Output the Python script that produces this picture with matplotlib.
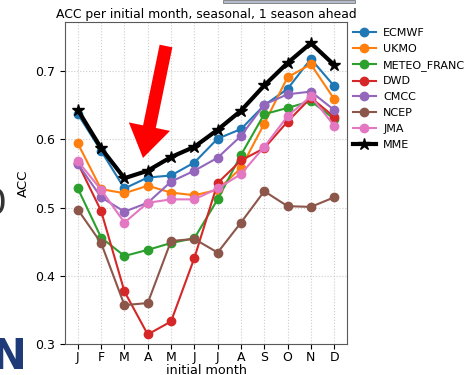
import matplotlib
matplotlib.use("Agg")
import matplotlib.pyplot as plt
from matplotlib.patches import Polygon, Rectangle
import numpy as np

months = ["J", "F", "M", "A", "M", "J", "J", "A", "S", "O", "N", "D"]
ecmwf = [0.637, 0.583, 0.528, 0.544, 0.547, 0.566, 0.601, 0.615, 0.650, 0.674, 0.718, 0.678]
ukmo = [0.594, 0.527, 0.521, 0.532, 0.522, 0.518, 0.526, 0.558, 0.623, 0.691, 0.710, 0.659]
meteo = [0.528, 0.456, 0.429, 0.438, 0.448, 0.455, 0.512, 0.577, 0.637, 0.646, 0.656, 0.630]
dwd = [0.565, 0.495, 0.377, 0.314, 0.333, 0.426, 0.536, 0.569, 0.587, 0.626, 0.661, 0.633]
cmcc = [0.564, 0.515, 0.494, 0.507, 0.538, 0.554, 0.573, 0.605, 0.651, 0.666, 0.670, 0.643]
ncep = [0.497, 0.448, 0.357, 0.360, 0.451, 0.454, 0.434, 0.478, 0.524, 0.502, 0.501, 0.515]
jma = [0.568, 0.526, 0.478, 0.507, 0.512, 0.512, 0.528, 0.549, 0.589, 0.634, 0.663, 0.620]
mme = [0.643, 0.587, 0.543, 0.554, 0.574, 0.589, 0.614, 0.642, 0.679, 0.712, 0.741, 0.709]

models = ["ECMWF", "UKMO", "METEO_FRANC", "DWD", "CMCC", "NCEP", "JMA"]
series = [ecmwf, ukmo, meteo, dwd, cmcc, ncep, jma]

W, H = 466, 375
fig = plt.figure(figsize=(W / 100, H / 100), dpi=100)
ax = fig.add_axes([65 / W, 1 - 344 / H, (347 - 65) / W, (344 - 22) / H])

x = np.arange(1, 13)
for name, vals in zip(models, series):
    ax.plot(x, vals, marker="o", ms=6, lw=1.5, label=name)
ax.plot(x, mme, marker="*", ms=9, lw=3, color="black", label="MME")

ax.set_xticks(x)
ax.set_xticklabels(months, fontsize=9)
ax.set_ylim(0.3, 0.772)
ax.set_yticks([0.3, 0.4, 0.5, 0.6, 0.7])
ax.tick_params(axis="y", labelsize=9)
ax.tick_params(axis="x", pad=1.8)
ax.grid(True, ls=":", color="0.8", lw=0.8)
ax.set_xlabel("initial month", fontsize=9.2, labelpad=-0.5)
ax.set_ylabel("ACC", fontsize=9.5)
ax.set_title("ACC per initial month, seasonal, 1 season ahead", fontsize=8.9, pad=3)
for s in ax.spines.values():
    s.set_color("0.35")

ax.legend(loc="upper left", bbox_to_anchor=(0.995, 1.005), frameon=False, fontsize=8,
          handlelength=2.0, labelspacing=0.52, handletextpad=0.7, borderaxespad=0.3)

# red arrow (pixel coords -> figure fraction)
def px(p):
    return (p[0] / W, 1 - p[1] / H)

tail = np.array([166.0, 46.0])
tip = np.array([143.0, 158.0])
d = (tip - tail) / np.linalg.norm(tip - tail)
n = np.array([-d[1], d[0]])
head_len, head_w, shaft_w = 32.0, 21.0, 6.5
base = tip - d * head_len
pts = [tail + n * shaft_w, base + n * shaft_w, base + n * head_w, tip,
       base - n * head_w, base - n * shaft_w, tail - n * shaft_w]
fig.patches.append(Polygon([px(p) for p in pts], closed=True, transform=fig.transFigure,
                           facecolor="#ff0000", edgecolor="none", zorder=10))

# screenshot remnants around the edges
fig.patches.append(Rectangle((223 / W, 1 - 3 / H), (355 - 223) / W, 3 / H, transform=fig.transFigure,
                             facecolor="#b4bccb", edgecolor="0.4", lw=0.5))
fig.text(-0.035, 1 - 203 / H, "0", fontsize=26, color="0.2", va="center", ha="left")
fig.text(-0.02, 1 - 357 / H, "N", fontsize=30, color="#1f3a78", fontweight="bold", va="center", ha="left")

fig.savefig("out.png", dpi=100)
